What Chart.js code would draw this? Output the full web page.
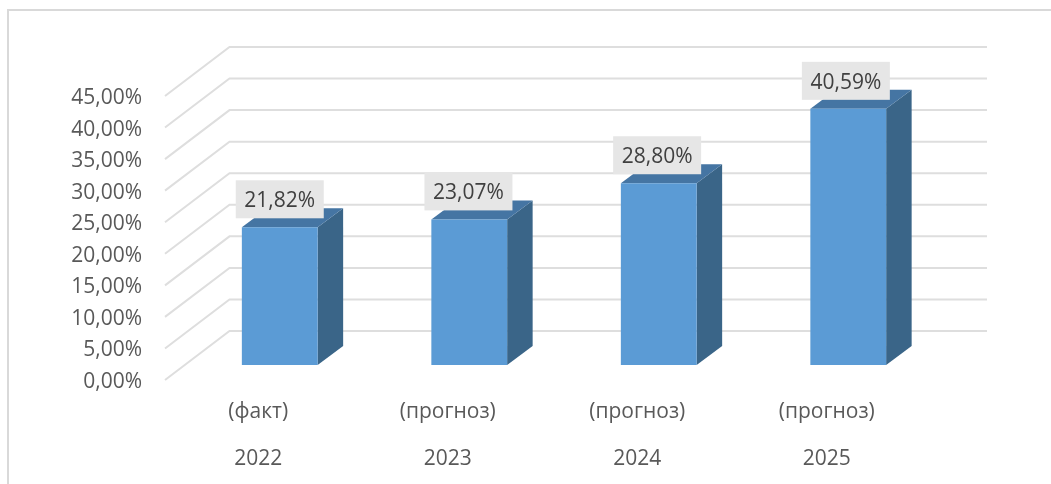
<!DOCTYPE html>
<html>
<head>
<meta charset="utf-8">
<style>
  html, body { margin: 0; padding: 0; background: #fff; }
  #chart { display: block; }
</style>
<script src="https://cdn.jsdelivr.net/npm/chart.js@4"></script>
</head>
<body>
<canvas id="chart" width="1051" height="484"></canvas>
<script>
const kinds = ['(факт)', '(прогноз)', '(прогноз)', '(прогноз)'];
const years = ['2022', '2023', '2024', '2025'];
const shares = [21.82, 23.07, 28.80, 40.59];
const yMax = 45;
const yStep = 5;

const FONT = "'Open Sans', sans-serif";
const fmtPct = v => v.toFixed(2).replace('.', ',') + '%';

// pseudo 3D: how far the back wall and the bars are pushed in depth
const wallDx = 64.5, wallDy = 49;
const barDx = 25.5, barDy = 19;
const floorShift = 17; // px between the y axis zero and the bar base
const labelDrop = 2;   // Open Sans sits high, axis is moved down a bit and the grid back up

const pseudo3d = {
    id: 'pseudo3d',
    beforeDatasetsDraw(chart) {
        const { ctx, scales: { y } } = chart;
        ctx.save();
        // outer frame
        ctx.strokeStyle = '#d9d9d9';
        ctx.lineWidth = 2;
        ctx.beginPath();
        ctx.moveTo(8, 484);
        ctx.lineTo(8, 10);
        ctx.lineTo(1051, 10);
        ctx.stroke();

        // grid lines, side wall + back wall
        ctx.strokeStyle = '#dedede';
        for (let v = 0; v <= yMax; v += yStep) {
            const py = y.getPixelForValue(v) - labelDrop;
            ctx.beginPath();
            ctx.moveTo(165, py);
            ctx.lineTo(165 + wallDx, py - wallDy);
            ctx.lineTo(987, py - wallDy);
            ctx.stroke();
        }

        // side and top faces of the bars
        chart.getDatasetMeta(0).data.forEach(bar => {
            const right = bar.x + bar.width / 2;
            const left = bar.x - bar.width / 2;
            ctx.fillStyle = '#3a6588';
            ctx.beginPath();
            ctx.moveTo(right, bar.y);
            ctx.lineTo(right + barDx, bar.y - barDy);
            ctx.lineTo(right + barDx, bar.base - barDy);
            ctx.lineTo(right, bar.base);
            ctx.closePath();
            ctx.fill();
            ctx.fillStyle = '#4575a3';
            ctx.beginPath();
            ctx.moveTo(left, bar.y);
            ctx.lineTo(left + barDx, bar.y - barDy);
            ctx.lineTo(right + barDx, bar.y - barDy);
            ctx.lineTo(right, bar.y);
            ctx.closePath();
            ctx.fill();
        });
        ctx.restore();
    },
    afterDatasetsDraw(chart) {
        const { ctx } = chart;
        ctx.save();
        ctx.font = '21px ' + FONT;
        ctx.textAlign = 'center';
        ctx.textBaseline = 'middle';
        chart.getDatasetMeta(0).data.forEach((bar, i) => {
            const cx = bar.x - i * 0.8;
            ctx.fillStyle = '#e6e6e6';
            ctx.fillRect(cx - 44, bar.y - 47, 88, 38);
            ctx.fillStyle = '#404040';
            ctx.fillText(fmtPct(shares[i]), cx, bar.y - 26);
        });
        ctx.restore();
    }
};

new Chart(document.getElementById('chart'), {
    type: 'bar',
    data: {
        labels: kinds.map((k, i) => [k, years[i]]),
        datasets: [{
            data: shares,
            yAxisID: 'yBars',
            backgroundColor: '#5b9bd5',
            borderWidth: 0,
            barPercentage: 0.4,
            categoryPercentage: 1
        }]
    },
    options: {
        responsive: false,
        animation: false,
        layout: { padding: { top: 96 + labelDrop, bottom: 0, left: 0, right: 108 } },
        plugins: { legend: { display: false }, tooltip: { enabled: false } },
        scales: {
            x: {
                grid: { display: false },
                border: { display: false },
                afterFit(axis) { axis.height = 104 - labelDrop; },
                ticks: {
                    color: '#595959',
                    padding: -2,
                    labelOffset: -21.5,
                    maxRotation: 0,
                    font: { family: FONT, size: 21, lineHeight: 2.24 }
                }
            },
            y: {
                min: 0,
                max: yMax,
                afterFit(axis) { axis.width = 185; },
                grid: { display: false, drawTicks: false },
                border: { display: false },
                ticks: {
                    stepSize: yStep,
                    color: '#595959',
                    padding: 43,
                    font: { family: FONT, size: 21 },
                    callback: v => fmtPct(v)
                }
            },
            // same range as y, moved so that 0 sits at the bar base
            yBars: {
                display: false,
                min: -floorShift / 6.31,
                max: yMax - floorShift / 6.31
            }
        }
    },
    plugins: [pseudo3d]
});
</script>
</body>
</html>
